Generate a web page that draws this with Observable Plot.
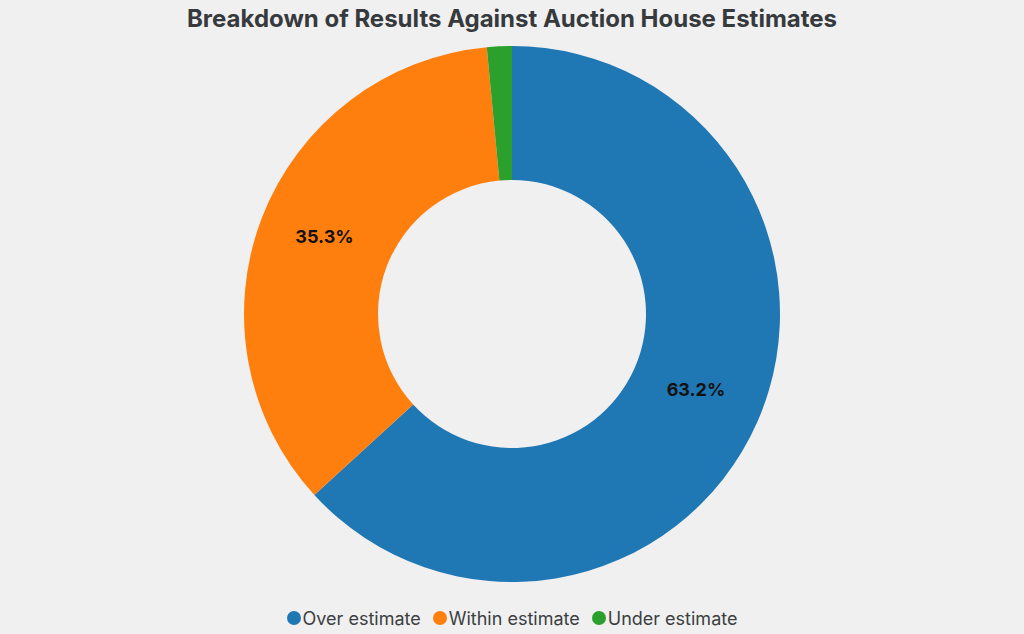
<!DOCTYPE html>
<html><head><meta charset="utf-8">
<script src="https://cdn.jsdelivr.net/npm/d3@7"></script>
<script src="https://cdn.jsdelivr.net/npm/@observablehq/plot@0.6"></script>
<style>
html,body{margin:0;padding:0;background:#f0f0f0;font-family:Inter,"Noto Sans",sans-serif;}
#title{height:38px;line-height:38px;text-align:center;font-weight:700;font-size:24px;color:#373a3d;}
#chart{height:552px;}
#legend{display:flex;justify-content:center;align-items:center;gap:12px;height:44px;font-size:18px;color:#3c3f42;margin-top:6px}
.item{display:flex;align-items:center;gap:2px}
.dot{width:14px;height:14px;border-radius:50%;display:inline-block}
</style></head>
<body>
<div id="title">Breakdown of Results Against Auction House Estimates</div>
<div id="chart"></div>
<div id="legend"></div>
<script>
const categories = ["Over estimate", "Within estimate", "Under estimate"];
const shares = [63.2, 35.3, 1.5];
const colors = ["#1f77b4", "#ff7f0e", "#2ca02c"];
const labels = ["63.2%", "35.3%", ""];

const data = categories.map((c, i) => ({category: c, share: shares[i], label: labels[i]}));
const W = 1024, H = 552, R = 268, r = 134;

function donut(index, scales, values, dimensions) {
  const cx = dimensions.width / 2, cy = dimensions.height / 2;
  const pie = d3.pie().sort(null).value(d => d.share)(data);
  const arc = d3.arc().innerRadius(r).outerRadius(R);
  const g = d3.create("svg:g").attr("transform", `translate(${cx},${cy})`);
  g.selectAll("path").data(pie).join("path")
    .attr("d", arc)
    .attr("fill", d => scales.color(d.data.category));
  g.selectAll("text").data(pie.filter(d => d.data.label)).join("text")
    .attr("transform", d => { const [x, y] = arc.centroid(d); return `translate(${x},${y - 5})`; })
    .attr("text-anchor", "middle").attr("dy", "0.35em")
    .attr("font-family", "Inter, sans-serif").attr("font-weight", 700).attr("font-size", 18)
    .attr("fill", "#111")
    .text(d => d.data.label);
  return g.node();
}

const chart = Plot.plot({
  width: W, height: H, margin: 0,
  style: {background: "transparent"},
  color: {domain: categories, range: colors},
  x: {axis: null}, y: {axis: null},
  marks: [donut]
});
document.getElementById("chart").append(chart);

const leg = d3.select("#legend");
categories.forEach((c, i) => {
  const it = leg.append("div").attr("class", "item");
  it.append("span").attr("class", "dot").style("background", colors[i]);
  it.append("span").text(c);
});
</script>
</body></html>
